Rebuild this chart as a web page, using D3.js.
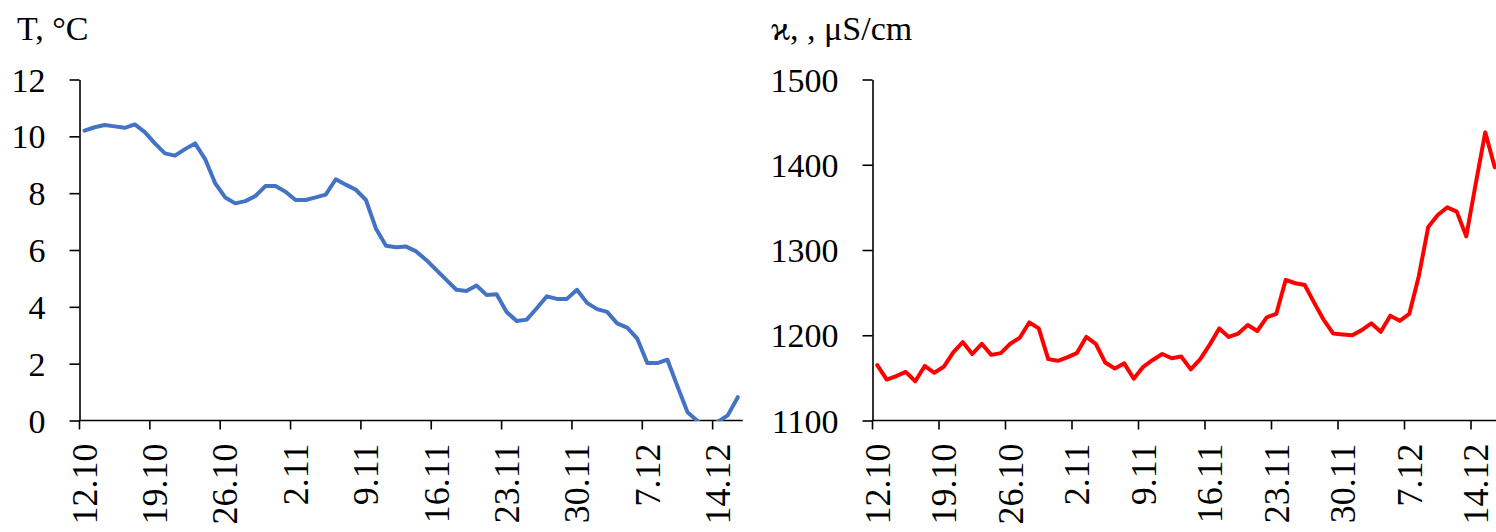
<!DOCTYPE html>
<html>
<head>
<meta charset="utf-8">
<script src="https://cdn.jsdelivr.net/npm/d3@7/dist/d3.min.js"></script>
<style>
  html, body { margin: 0; padding: 0; background: #fff; }
  svg { display: block; }
  text { font-family: "Liberation Serif", "Times New Roman", serif; fill: #000; }
</style>
</head>
<body>
<svg id="chart" width="1496" height="532"></svg>
<script>
// Daily observation dates, 12 October – 16 December
const days = [
  "12.10","13.10","14.10","15.10","16.10","17.10","18.10","19.10","20.10","21.10",
  "22.10","23.10","24.10","25.10","26.10","27.10","28.10","29.10","30.10","31.10",
  "1.11","2.11","3.11","4.11","5.11","6.11","7.11","8.11","9.11","10.11",
  "11.11","12.11","13.11","14.11","15.11","16.11","17.11","18.11","19.11","20.11",
  "21.11","22.11","23.11","24.11","25.11","26.11","27.11","28.11","29.11","30.11",
  "1.12","2.12","3.12","4.12","5.12","6.12","7.12","8.12","9.12","10.12",
  "11.12","12.12","13.12","14.12","15.12","16.12"
];

// Weekly labelled dates on the horizontal axes
const tickDays = ["12.10","19.10","26.10","2.11","9.11","16.11","23.11","30.11","7.12","14.12"];

// Water temperature, °C
const temperature = [
  10.2, 10.32, 10.4, 10.35, 10.3, 10.42, 10.15, 9.75, 9.4, 9.32,
  9.55, 9.75, 9.2, 8.35, 7.85, 7.64, 7.72, 7.9, 8.25, 8.25,
  8.05, 7.76, 7.76, 7.85, 7.95, 8.49, 8.3, 8.12, 7.76, 6.75,
  6.15, 6.1, 6.12, 5.95, 5.65, 5.3, 4.95, 4.6, 4.56, 4.75,
  4.42, 4.44, 3.82, 3.5, 3.55, 3.95, 4.37, 4.28, 4.28, 4.6,
  4.14, 3.92, 3.82, 3.42, 3.27, 2.88, 2.02, 2.02, 2.14, 1.2,
  0.29, -0.02, -0.3, -0.05, 0.18, 0.82
];

// Specific electrical conductivity, µS/cm
const conductivity = [
  1165, 1148, 1152, 1157, 1146, 1164, 1156, 1163, 1180, 1192,
  1178, 1190, 1177, 1179, 1190, 1197, 1215, 1208, 1172, 1170,
  1174, 1179, 1198, 1190, 1168, 1161, 1167, 1149, 1163, 1171,
  1178, 1173, 1175, 1160, 1172, 1189, 1208, 1198, 1202, 1212,
  1205, 1221, 1225, 1265, 1261, 1259, 1238, 1218, 1202, 1201,
  1200, 1206, 1214, 1204, 1223, 1217, 1225, 1269, 1327, 1341,
  1350, 1345, 1316, 1378, 1438, 1397
];

const tTicks = [0, 2, 4, 6, 8, 10, 12];
const kTicks = [1100, 1200, 1300, 1400, 1500];

const svg = d3.select("#chart");
const FONT = 34;
const DATE_FONT = 36;

function panel(opts) {
  const { left, right, top, bottom, values, yDomain, yTicks, color, title, titleX, id } = opts;

  const x = d3.scaleBand().domain(days).range([left, right]).paddingInner(0).paddingOuter(0);
  const y = d3.scaleLinear().domain(yDomain).range([bottom, top]);
  const g = svg.append("g");

  // Panel title (quantity and unit)
  g.append("text")
    .attr("x", titleX)
    .attr("y", 40)
    .attr("font-size", FONT)
    .text(title);

  // Vertical axis
  const yAxis = d3.axisLeft(y)
    .tickValues(yTicks)
    .tickSize(10)
    .tickSizeOuter(0)
    .tickPadding(24)
    .tickFormat(d3.format("d"));
  const ya = g.append("g").attr("transform", `translate(${left},0)`).call(yAxis);
  ya.select(".domain").attr("stroke", "#000").attr("stroke-width", 1.6);
  ya.selectAll(".tick line").attr("stroke", "#000").attr("stroke-width", 1.6);
  ya.selectAll(".tick text")
    .attr("font-family", "Liberation Serif, serif")
    .attr("font-size", FONT)
    .attr("fill", "#000")
    .attr("dy", "0.34em");

  // Horizontal axis line
  g.append("line")
    .attr("x1", left).attr("x2", right)
    .attr("y1", bottom).attr("y2", bottom)
    .attr("stroke", "#000").attr("stroke-width", 1.6);

  // Weekly tick marks on category boundaries
  g.selectAll("line.xt")
    .data(tickDays)
    .join("line")
    .attr("class", "xt")
    .attr("x1", d => x(d)).attr("x2", d => x(d))
    .attr("y1", bottom).attr("y2", bottom + 9)
    .attr("stroke", "#000").attr("stroke-width", 1.6);

  // Rotated date labels centred on their categories
  g.selectAll("text.xl")
    .data(tickDays)
    .join("text")
    .attr("class", "xl")
    .attr("font-size", DATE_FONT)
    .attr("text-anchor", "end")
    .attr("dy", "0.34em")
    .attr("transform", d => `translate(${x(d) + x.bandwidth() / 2},${bottom + 23}) rotate(-90)`)
    .text(d => d);

  // Data line, clipped to the plotting area
  const clip = svg.append("clipPath").attr("id", id);
  clip.append("rect")
    .attr("x", left).attr("y", top - 10)
    .attr("width", right - left + 10)
    .attr("height", bottom - top + 10.5);

  const line = d3.line()
    .x((d, i) => x(days[i]) + x.bandwidth() / 2)
    .y(d => y(d));

  g.append("path")
    .datum(values)
    .attr("clip-path", `url(#${id})`)
    .attr("fill", "none")
    .attr("stroke", color)
    .attr("stroke-width", 4)
    .attr("stroke-linejoin", "round")
    .attr("stroke-linecap", "round")
    .attr("d", line);
}

panel({
  id: "clipT",
  left: 79.5, right: 79.5 + 66 * 10.05, top: 79.5, bottom: 420.5,
  values: temperature, yDomain: [0, 12], yTicks: tTicks,
  color: "#4472C4", title: "T, °C", titleX: 17
});

panel({
  id: "clipK",
  left: 872.5, right: 872.5 + 66 * 9.5, top: 79.5, bottom: 420.5,
  values: conductivity, yDomain: [1100, 1500], yTicks: kTicks,
  color: "#FF0000", title: "ϰ, , μS/cm", titleX: 771
});
</script>
</body>
</html>
